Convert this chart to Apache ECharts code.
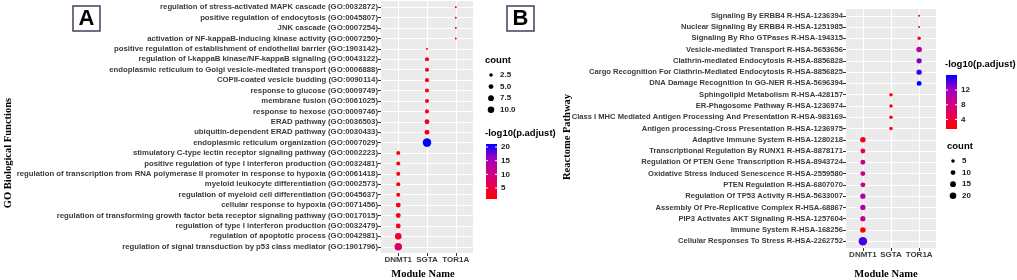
<!DOCTYPE html>
<html>
<head>
<meta charset="utf-8">
<script src="https://cdn.jsdelivr.net/npm/echarts@6/dist/echarts.min.js"></script>
<style>
  html, body { margin: 0; padding: 0; background: #fff; }
  #chart { width: 1017px; height: 280px; }
</style>
</head>
<body>
<div id="chart"></div>
<script>
const modules = ['DNMT1', 'SGTA', 'TOR1A'];

// panel A - GO biological functions (top to bottom)
const goTerms = [
  'regulation of stress-activated MAPK cascade (GO:0032872)',
  'positive regulation of endocytosis (GO:0045807)',
  'JNK cascade (GO:0007254)',
  'activation of NF-kappaB-inducing kinase activity (GO:0007250)',
  'positive regulation of establishment of endothelial barrier (GO:1903142)',
  'regulation of I-kappaB kinase/NF-kappaB signaling (GO:0043122)',
  'endoplasmic reticulum to Golgi vesicle-mediated transport (GO:0006888)',
  'COPII-coated vesicle budding (GO:0090114)',
  'response to glucose (GO:0009749)',
  'membrane fusion (GO:0061025)',
  'response to hexose (GO:0009746)',
  'ERAD pathway (GO:0036503)',
  'ubiquitin-dependent ERAD pathway (GO:0030433)',
  'endoplasmic reticulum organization (GO:0007029)',
  'stimulatory C-type lectin receptor signaling pathway (GO:0002223)',
  'positive regulation of type I interferon production (GO:0032481)',
  'regulation of transcription from RNA polymerase II promoter in response to hypoxia (GO:0061418)',
  'myeloid leukocyte differentiation (GO:0002573)',
  'regulation of myeloid cell differentiation (GO:0045637)',
  'cellular response to hypoxia (GO:0071456)',
  'regulation of transforming growth factor beta receptor signaling pathway (GO:0017015)',
  'regulation of type I interferon production (GO:0032479)',
  'regulation of apoptotic process (GO:0042981)',
  'regulation of signal transduction by p53 class mediator (GO:1901796)'
];
const goModule = [2, 2, 2, 2, 1, 1, 1, 1, 1, 1, 1, 1, 1, 1, 0, 0, 0, 0, 0, 0, 0, 0, 0, 0];
const goCount = [1, 1, 1, 1, 1, 2, 2, 2, 2, 2, 2, 3, 3, 11, 2, 2, 2, 2, 2, 3, 3, 3, 6, 8];
const goLogP = [1.1, 1.1, 1.1, 1.1, 1.0, 2.0, 2.2, 2.2, 2.3, 2.3, 2.3, 3.0, 3.2, 21.1,
  1.6, 1.6, 1.7, 1.7, 1.8, 2.3, 2.4, 2.5, 3.5, 8.2];

// panel B - Reactome pathways (top to bottom)
const reTerms = [
  'Signaling By ERBB4 R-HSA-1236394',
  'Nuclear Signaling By ERBB4 R-HSA-1251985',
  'Signaling By Rho GTPases R-HSA-194315',
  'Vesicle-mediated Transport R-HSA-5653656',
  'Clathrin-mediated Endocytosis R-HSA-8856828',
  'Cargo Recognition For Clathrin-Mediated Endocytosis R-HSA-8856825',
  'DNA Damage Recognition In GG-NER R-HSA-5696394',
  'Sphingolipid Metabolism R-HSA-428157',
  'ER-Phagosome Pathway R-HSA-1236974',
  'Class I MHC Mediated Antigen Processing And Presentation R-HSA-983169',
  'Antigen processing-Cross Presentation R-HSA-1236975',
  'Adaptive Immune System R-HSA-1280218',
  'Transcriptional Regulation By RUNX1 R-HSA-8878171',
  'Regulation Of PTEN Gene Transcription R-HSA-8943724',
  'Oxidative Stress Induced Senescence R-HSA-2559580',
  'PTEN Regulation R-HSA-6807070',
  'Regulation Of TP53 Activity R-HSA-5633007',
  'Assembly Of Pre-Replicative Complex R-HSA-68867',
  'PIP3 Activates AKT Signaling R-HSA-1257604',
  'Immune System R-HSA-168256',
  'Cellular Responses To Stress R-HSA-2262752'
];
const reModule = [2, 2, 2, 2, 2, 2, 2, 1, 1, 1, 1, 0, 0, 0, 0, 0, 0, 0, 0, 0, 0];
const reCount = [2, 2, 3, 8, 7, 7, 6, 3, 3, 3, 3, 8, 6, 6, 6, 6, 7, 7, 7, 8, 22];
const reLogP = [1.4, 1.4, 1.9, 10.2, 13.0, 14.6, 16.1, 1.7, 1.7, 1.7, 1.7,
  2.4, 5.8, 8.7, 9.3, 9.3, 11.0, 11.3, 8.9, 1.9, 14.4];

// legend breaks
const countBreaksA = ['2.5', '5.0', '7.5', '10.0'];
const colorBreaksA = [5, 10, 15, 20];
const countBreaksB = ['5', '10', '15', '20'];
const colorBreaksB = [4, 8, 12];

// red -> blue, close to ggplot's Lab gradient
const ramp = ['#FF0000', '#E80050', '#CA0089', '#9A00C3', '#0000FF'];

const labelFont = 'Liberation Sans, Arial, sans-serif';
const serif = 'Liberation Serif, Times New Roman, serif';

const minOf = a => Math.min.apply(null, a);
const maxOf = a => Math.max.apply(null, a);

function dotSize(c, lo, hi) {
  return 2 + 6.5 * Math.sqrt(Math.max(0, (c - lo) / (hi - lo)));
}

const sizeA = { lo: minOf(goCount), hi: maxOf(goCount) };
const sizeB = { lo: minOf(reCount), hi: maxOf(reCount) };
const colA = { lo: minOf(goLogP), hi: maxOf(goLogP) };
const colB = { lo: minOf(reLogP), hi: maxOf(reLogP) };

function idx(n) {
  const out = [];
  for (let i = 0; i < n; i++) out.push(i);
  return out;
}

function axesFor(gi, terms, fs) {
  const n = terms.length;
  const x = {
    type: 'value', gridIndex: gi, min: -0.6, max: 2.6, position: 'bottom',
    axisLine: { show: false, onZero: false },
    axisTick: { show: true, customValues: [0, 1, 2], length: 3, lineStyle: { color: '#333', width: 1 } },
    axisLabel: {
      customValues: [0, 1, 2], margin: 3,
      formatter: v => modules[Math.round(v)] || '',
      color: '#3b3b3b', fontFamily: labelFont, fontWeight: 'bold', fontSize: 8
    },
    splitLine: { show: true, lineStyle: { color: '#fff', width: 1 } }
  };
  const y = {
    type: 'value', gridIndex: gi, inverse: true, min: -0.6, max: n - 0.4, position: 'left',
    axisLine: { show: false, onZero: false },
    axisTick: { show: true, customValues: idx(n), length: 3, lineStyle: { color: '#333', width: 1 } },
    axisLabel: {
      customValues: idx(n), margin: 3,
      formatter: v => terms[Math.round(v)] || '',
      color: '#3b3b3b', fontFamily: labelFont, fontWeight: 'bold', fontSize: fs
    },
    splitLine: { show: true, lineStyle: { color: '#fff', width: 1 } }
  };
  return [x, y];
}

const axA = axesFor(0, goTerms, 7.75);
const axB = axesFor(1, reTerms, 7.6);

function gradient() {
  const stops = ramp.slice().reverse().map((c, i) => ({ offset: i / (ramp.length - 1), color: c }));
  return new echarts.graphic.LinearGradient(0, 0, 0, 1, stops);
}

function titleText(x, y, text) {
  return { type: 'text', x: x, y: y, style: { text: text, fill: '#000', fontFamily: labelFont, fontWeight: 'bold', fontSize: 9.5, verticalAlign: 'middle' } };
}
function smallText(x, y, text) {
  return { type: 'text', x: x, y: y, style: { text: text, fill: '#1a1a1a', fontFamily: labelFont, fontWeight: 'bold', fontSize: 8, verticalAlign: 'middle' } };
}

function sizeLegend(x, y, breaks, sc) {
  const els = [titleText(x, y, 'count')];
  breaks.forEach((b, i) => {
    const cy = y + 15 + i * 11.6;
    const r = dotSize(parseFloat(b), sc.lo, sc.hi) * 0.8 / 2;
    els.push({ type: 'circle', shape: { cx: x + 6, cy: cy, r: r }, style: { fill: '#000' } });
    els.push(smallText(x + 15, cy, b));
  });
  return els;
}

function colorLegend(x, y, h, breaks, cs) {
  const barTop = y + 11, w = 11;
  const els = [titleText(x, y, '-log10(p.adjust)')];
  els.push({ type: 'rect', shape: { x: x + 1, y: barTop, width: w, height: h }, style: { fill: gradient() } });
  breaks.forEach(b => {
    const ty = barTop + (cs.hi - b) / (cs.hi - cs.lo) * h;
    els.push({ type: 'line', shape: { x1: x + 1, y1: ty, x2: x + 3, y2: ty }, style: { stroke: '#fff', lineWidth: 1 } });
    els.push({ type: 'line', shape: { x1: x + 1 + w - 2, y1: ty, x2: x + 1 + w, y2: ty }, style: { stroke: '#fff', lineWidth: 1 } });
    els.push(smallText(x + 16, ty, String(b)));
  });
  return els;
}

function letterBox(x, letter) {
  return [
    { type: 'rect', shape: { x: x, y: 6, width: 27, height: 25 }, style: { fill: '#fff', stroke: '#4B3B5B', lineWidth: 1.5 } },
    { type: 'text', x: x + 13.5, y: 19, style: { text: letter, fill: '#000', fontFamily: labelFont, fontWeight: 'bold', fontSize: 22, align: 'center', verticalAlign: 'middle' } }
  ];
}

function axisTitle(x, y, text, rotate) {
  return { type: 'text', x: x, y: y, rotation: rotate ? Math.PI / 2 : 0,
    style: { text: text, fill: '#000', fontFamily: serif, fontWeight: 'bold', fontSize: 10.5, align: 'center', verticalAlign: 'middle' } };
}

const graphics = []
  .concat(letterBox(73, 'A'), letterBox(507, 'B'))
  .concat(sizeLegend(485, 60, countBreaksA, sizeA))
  .concat(colorLegend(485, 133, 55, colorBreaksA, colA))
  .concat(colorLegend(945, 64, 54, colorBreaksB, colB))
  .concat(sizeLegend(947, 146, countBreaksB, sizeB))
  .concat([
    axisTitle(8, 153, 'GO Biological Functions', true),
    axisTitle(567, 137, 'Reactome Pathway', true),
    axisTitle(423, 274, 'Module Name', false),
    axisTitle(886, 274, 'Module Name', false)
  ]);

const chart = echarts.init(document.getElementById('chart'), null, { renderer: 'canvas' });
chart.setOption({
  animation: false,
  backgroundColor: '#fff',
  grid: [
    { left: 381, top: 1, width: 92, height: 252, show: true, backgroundColor: '#EBEBEB', borderWidth: 0, outerBoundsMode: 'none' },
    { left: 846, top: 9, width: 90, height: 239, show: true, backgroundColor: '#EBEBEB', borderWidth: 0, outerBoundsMode: 'none' }
  ],
  xAxis: [axA[0], axB[0]],
  yAxis: [axA[1], axB[1]],
  visualMap: [
    { type: 'continuous', show: false, seriesIndex: 0, dimension: 3, min: colA.lo, max: colA.hi, inRange: { color: ramp } },
    { type: 'continuous', show: false, seriesIndex: 1, dimension: 3, min: colB.lo, max: colB.hi, inRange: { color: ramp } }
  ],
  series: [
    {
      type: 'scatter', xAxisIndex: 0, yAxisIndex: 0,
      data: goTerms.map((t, i) => [goModule[i], i, goCount[i], goLogP[i]]),
      symbolSize: v => dotSize(v[2], sizeA.lo, sizeA.hi),
      itemStyle: { opacity: 1 }
    },
    {
      type: 'scatter', xAxisIndex: 1, yAxisIndex: 1,
      data: reTerms.map((t, i) => [reModule[i], i, reCount[i], reLogP[i]]),
      symbolSize: v => dotSize(v[2], sizeB.lo, sizeB.hi),
      itemStyle: { opacity: 1 }
    }
  ],
  graphic: graphics
});
</script>
</body>
</html>
